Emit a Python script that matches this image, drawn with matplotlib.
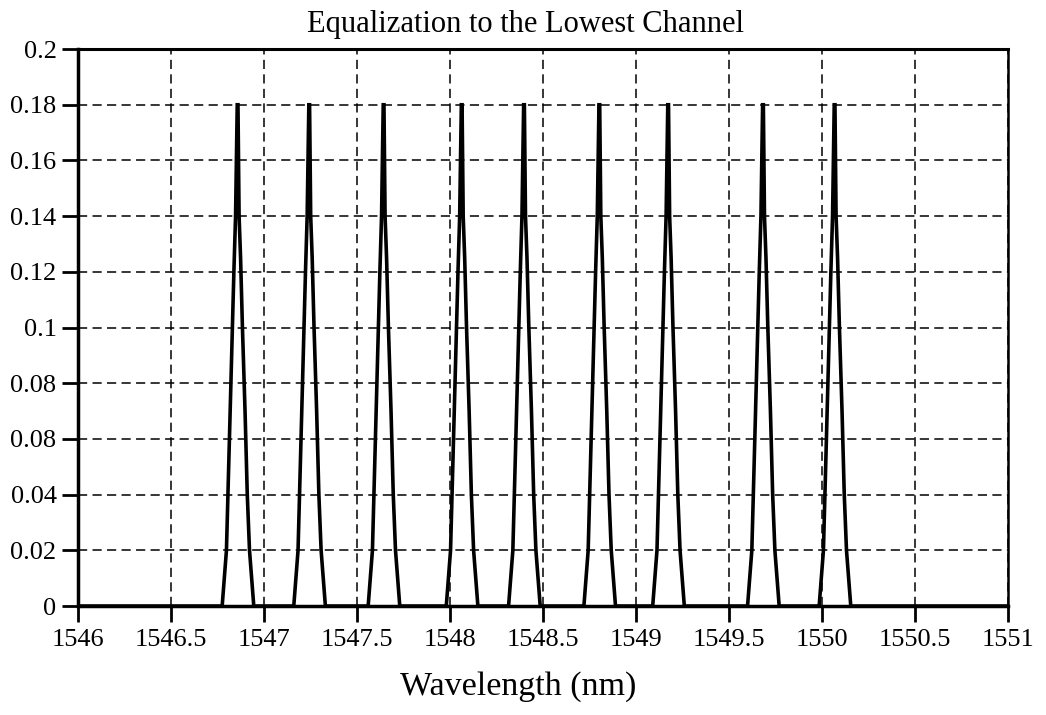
import numpy as np
import matplotlib
matplotlib.use("Agg")
import matplotlib.pyplot as plt

# channel centre wavelengths (nm)
centers = [1546.86, 1547.245, 1547.645, 1548.065, 1548.40,
           1548.805, 1549.175, 1549.685, 1550.07]
# shape of one channel: offset from centre (nm) and power
prof_dx = [-0.085, -0.062, -0.05, -0.038, -0.022, -0.013, -0.004,
           0.0, 0.006, 0.014, 0.024, 0.038, 0.05, 0.062, 0.085]
prof_y = [0.0, 0.02, 0.05, 0.08, 0.12, 0.14, 0.18,
          0.18, 0.14, 0.125, 0.10, 0.07, 0.04, 0.02, 0.0]

yticks = [0, 0.02, 0.04, 0.06, 0.08, 0.1, 0.12, 0.14, 0.16, 0.18, 0.2]
ytick_labels = ['0', '0.02', '0.04', '0.08', '0.08', '0.1', '0.12',
                '0.14', '0.16', '0.18', '0.2']
xticks = [1546, 1546.5, 1547, 1547.5, 1548, 1548.5, 1549,
          1549.5, 1550, 1550.5, 1551]
xtick_labels = ['1546', '1546.5', '1547', '1547.5', '1548', '1548.5',
                '1549', '1549.5', '1550', '1550.5', '1551']

plt.rcParams['font.family'] = ['Liberation Serif', 'DejaVu Serif']

xs = [1546.0]
ys = [0.0]
for c in centers:
    xs.extend(c + np.array(prof_dx))
    ys.extend(prof_y)
xs.append(1551.0)
ys.append(0.0)

fig = plt.figure(figsize=(10.46, 7.15), dpi=100)
ax = fig.add_axes([0.0746, 0.1524, 0.889, 0.779])

ax.plot(xs, ys, color='black', lw=2.6, solid_joinstyle='miter', zorder=3)

ax.set_xlim(1546, 1551)
ax.set_ylim(0, 0.2)
ax.set_xticks(xticks)
ax.set_xticklabels(xtick_labels)
ax.set_yticks(yticks)
ax.set_yticklabels(ytick_labels)
ax.tick_params(axis='both', direction='out', length=11.5, width=2,
               labelsize=19, pad=4, color='black')
ax.tick_params(axis='x', pad=5)

ax.grid(True, color='black', linestyle=(0, (6, 3.5)), linewidth=1.1)
for side in ['left', 'bottom']:
    ax.spines[side].set_linewidth(2.5)
ax.spines['top'].set_linewidth(2.2)
ax.spines['right'].set_linewidth(1.8)

ax.set_title('Equalization to the Lowest Channel', fontsize=22, pad=12, x=0.481)
ax.set_xlabel('Wavelength (nm)', fontsize=24.5)
ax.xaxis.set_label_coords(0.473, -0.117)

fig.savefig('out.png', dpi=100)
